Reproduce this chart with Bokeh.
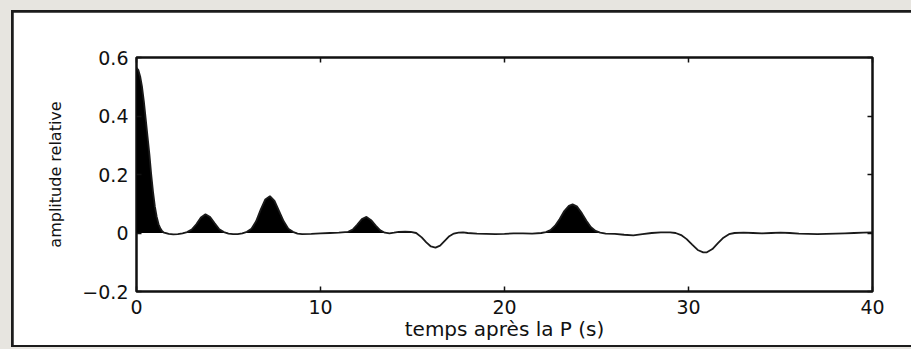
import numpy as np
from bokeh.plotting import figure
from bokeh.layouts import column
from bokeh.models import Range1d, LinearAxis, FixedTicker, ColumnDataSource
from bokeh.embed import file_html
from bokeh.resources import INLINE

# ---- data ----
time_s = [0.0, 0.1, 0.2, 0.3, 0.4, 0.5, 0.6, 0.7, 0.8, 0.9, 1.0, 1.1, 1.2, 1.3, 1.4, 1.5,
          1.75, 2.0, 2.25, 2.5,
          2.75, 3.0, 3.25, 3.5, 3.75, 4.0, 4.25, 4.5, 4.75, 5.0, 5.25, 5.5, 5.75,
          6.0, 6.25, 6.5, 6.75, 7.0, 7.25, 7.5, 7.75, 8.0, 8.25, 8.5, 8.75, 9.0, 9.5,
          10.0, 10.5, 11.0, 11.5,
          11.75, 12.0, 12.25, 12.5, 12.75, 13.0, 13.25, 13.5, 13.75, 14.0, 14.25, 14.6,
          14.9, 15.2, 15.5, 15.75, 16.0, 16.25, 16.5, 16.75, 17.0, 17.25, 17.5, 17.75,
          18.0, 18.5, 19.0, 19.5, 20.0, 20.5, 21.0, 21.5, 22.0, 22.25,
          22.5, 22.75, 23.0, 23.25, 23.5, 23.7, 23.95, 24.2, 24.45, 24.7, 24.95, 25.2,
          25.5, 26.0, 26.5, 27.0, 27.5, 28.0, 28.5, 29.0, 29.3, 29.6, 29.9, 30.2, 30.5,
          30.8, 31.0, 31.3, 31.6, 31.9, 32.2, 32.5, 33.0, 33.5, 34.0, 34.5, 35.0, 35.5,
          36.0, 36.5, 37.0, 37.5, 38.0, 38.5, 39.0, 39.5, 40.0]
amplitude = [0.565, 0.557, 0.535, 0.50, 0.45, 0.39, 0.33, 0.27, 0.20, 0.14, 0.09, 0.055, 0.03, 0.015, 0.006, 0.001,
             -0.003, -0.005, -0.004, -0.001,
             0.003, 0.012, 0.03, 0.053, 0.064, 0.055, 0.033, 0.013, 0.003, -0.002, -0.004, -0.004, -0.001,
             0.004, 0.015, 0.04, 0.08, 0.115, 0.126, 0.11, 0.075, 0.04, 0.015, 0.004, -0.002, -0.004, -0.003,
             -0.001, 0.0, 0.001, 0.004,
             0.012, 0.029, 0.048, 0.055, 0.044, 0.025, 0.009, 0.001, -0.001, 0.001, 0.004, 0.005,
             0.004, 0.0, -0.015, -0.032, -0.046, -0.05, -0.043, -0.027, -0.011, -0.002, 0.001, 0.002,
             0.0, -0.002, -0.003, -0.004, -0.003, -0.001, -0.001, -0.002, 0.0, 0.003,
             0.01, 0.025, 0.048, 0.075, 0.093, 0.098, 0.09, 0.068, 0.042, 0.02, 0.007, 0.001,
             -0.002, -0.003, -0.006, -0.008, -0.004, 0.0, 0.002, 0.002, 0.0, -0.007, -0.021, -0.04, -0.058,
             -0.066, -0.066, -0.055, -0.035, -0.016, -0.004, 0.0, 0.001, 0.0, -0.001, 0.0, 0.001, 0.0,
             -0.002, -0.003, -0.004, -0.003, -0.002, -0.001, 0.0, 0.001, 0.002]
x_ticks = [0, 10, 20, 30, 40]
y_ticks = [-0.2, 0, 0.2, 0.4, 0.6]
y_tick_labels = ["\u22120.2", "0", "0.2", "0.4", "0.6"]
x_label = "temps apr\u00e8s la P (s)"
y_label = "amplitude relative"

t = np.array(time_s)
a = np.array(amplitude)
src = ColumnDataSource(dict(t=t, a=a, pos=np.clip(a, 0, None), zero=np.zeros_like(a)))

# figure sits inside a white panel with a dark left/top/bottom edge on a grey page
p = figure(width=898, height=333, output_backend="svg", toolbar_location=None,
           x_range=Range1d(0, 40), y_range=Range1d(-0.2, 0.6),
           min_border_left=123, min_border_right=39, min_border_top=45, min_border_bottom=54)
p.margin = (2, 0, 2, 2)
p.border_fill_color = "white"
p.background_fill_color = "white"
p.outline_line_color = "#111111"
p.outline_line_width = 2.5
p.grid.visible = False

p.varea(x="t", y1="zero", y2="pos", source=src, fill_color="black")
p.line(x="t", y="a", source=src, line_color="#1a1a1a", line_width=1.8)

font = "DejaVu Sans"
for ax in (p.xaxis[0], p.yaxis[0]):
    ax.axis_line_color = None
    ax.major_tick_in = 5
    ax.major_tick_out = 0
    ax.minor_tick_line_color = None
    ax.major_tick_line_width = 1.5
    ax.major_tick_line_color = "#111111"
    ax.major_label_text_font = font
    ax.major_label_text_font_size = "19px"
    ax.major_label_text_color = "#111111"
    ax.axis_label_text_font = font
    ax.axis_label_text_font_style = "normal"
    ax.axis_label_text_color = "#111111"

p.xaxis[0].ticker = FixedTicker(ticks=x_ticks)
p.xaxis[0].major_label_standoff = 8
p.xaxis[0].axis_label = x_label
p.xaxis[0].axis_label_text_font_size = "20px"
p.xaxis[0].axis_label_standoff = 0

p.yaxis[0].ticker = FixedTicker(ticks=y_ticks)
p.yaxis[0].major_label_overrides = {v: s for v, s in zip(y_ticks, y_tick_labels)}
p.yaxis[0].major_label_standoff = 8
p.yaxis[0].axis_label = y_label
p.yaxis[0].axis_label_text_font_size = "16px"
p.yaxis[0].axis_label_standoff = 14

top = LinearAxis(ticker=FixedTicker(ticks=x_ticks),
                 major_label_overrides={v: "" for v in x_ticks})
right = LinearAxis(ticker=FixedTicker(ticks=y_ticks),
                   major_label_overrides={v: "" for v in y_ticks})
for ax in (top, right):
    ax.axis_line_color = None
    ax.major_tick_in = 5
    ax.major_tick_out = 0
    ax.minor_tick_line_color = None
    ax.major_tick_line_width = 1.5
    ax.major_tick_line_color = "#111111"
    ax.major_label_standoff = 0
p.add_layout(top, "above")
p.add_layout(right, "right")

inner = column(p, styles={"background-color": "#1c1c1c"})
inner.margin = (10, 0, 2, 11)
root = column(inner, styles={"background-color": "#e7e5e0"})
root.margin = (0, 0, 0, 0)

open("out.html", "w").write(file_html(root, INLINE))
